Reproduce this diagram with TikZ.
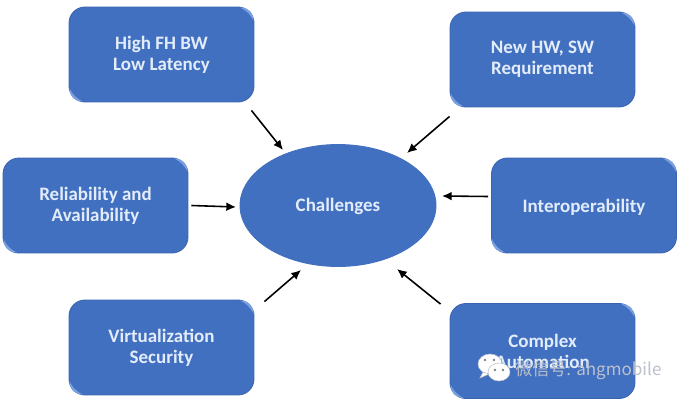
\documentclass[tikz,border=0pt]{standalone}
\usepackage{fontspec}
\setmainfont{Carlito}
\newfontfamily\cjkfont{Noto Sans CJK SC}
\usepackage{tikz}
\usetikzlibrary{shapes.geometric,arrows.meta}
\definecolor{boxblue}{RGB}{66,112,192}
\definecolor{boxedge}{RGB}{58,100,176}
\definecolor{glossblue}{RGB}{122,160,224}
\definecolor{markgray}{RGB}{186,192,204}
\definecolor{boxtext}{RGB}{226,236,250}
\tikzset{
  topic/.style={draw=boxedge,fill=boxblue,line width=.5pt,rounded corners=.32cm,
    minimum width=3.7cm,minimum height=1.9cm,align=center,text=boxtext,
    font=\fontsize{10.8}{11.9}\selectfont\bfseries,
    execute at begin node={\rule{0pt}{9.2pt}}},
  hub/.style={topic,ellipse,draw=boxblue,rounded corners=0pt,minimum width=3.92cm,minimum height=2.44cm},
  link/.style={-{Latex[length=5.5pt,width=5pt]},line width=.9pt}
}
% lighter crescents on two corners of a box
\newcommand{\gloss}[1]{
  \begin{scope}[shift={(#1.north east)}]
    \fill[glossblue] (-14,1) .. controls (-6,1) and (-1,6) .. (-1,14) .. controls (-4,8) and (-8,4) .. cycle;
  \end{scope}
  \begin{scope}[shift={(#1.south west)}]
    \fill[glossblue] (14,-1) .. controls (6,-1) and (1,-6) .. (1,-14) .. controls (4,-8) and (8,-4) .. cycle;
  \end{scope}
}
\begin{document}
\begin{tikzpicture}[x=.02cm,y=-.02cm]
\useasboundingbox (0,0) rectangle (682,402);
\fill[white] (0,0) rectangle (682,402);
\node[hub] (challenges) at (338,205.5) {Challenges};
\node[topic] (fhbw) at (161.5,54.5) {High FH BW\\Low Latency};
\node[topic] (hwsw) at (542.5,59.5) {New HW, SW\\Requirement};
\node[topic] (reliab) at (95.5,205.5) {Reliability and\\Availability};
\node[topic] (interop) at (584,205.5) {Interoperability};
\node[topic] (virt) at (161.5,347.5) {Virtualization\\Security};
\node[topic] (cmplx) at (542.5,351) {Complex\\Automation};
\gloss{fhbw}\gloss{hwsw}\gloss{reliab}\gloss{interop}\gloss{virt}\gloss{cmplx}
% arrows stop short of the ellipse
\coordinate (tipa) at (283,150);\coordinate (tipb) at (407,153);
\coordinate (tipc) at (236,207);\coordinate (tipd) at (442,196);
\coordinate (tipe) at (301,270);\coordinate (tipf) at (397,269);
\draw[link] (fhbw.south east)++(-3,8) coordinate (taila) -- (tipa);
\draw[link] (hwsw.south west)++(0,9) coordinate (tailb) -- (tipb);
\draw[link] (reliab.east)++(3,0) coordinate (tailc) -- (tipc);
\draw[link] (interop.west)++(-3,-9) coordinate (taild) -- (tipd);
\draw[link] (virt.north east)++(10,2) coordinate (taile) -- (tipe);
\draw[link] (cmplx.north west)++(-9,1) coordinate (tailf) -- (tipf);
% chat mark over the last box
\fill[white,draw=markgray,line width=.3pt] (490,364) ellipse[x radius=12,y radius=10];
\fill[white,draw=markgray,line width=.3pt] (483,372)--(480,378)--(489,374)--cycle;
\fill[white,draw=markgray,line width=.3pt] (499,372) ellipse[x radius=11,y radius=9];
\foreach \ex/\ey in {485/360,494/360,495/370,503/370}{
  \fill[gray] (\ex,\ey) circle[radius=1.3];
}
\node[text=markgray,font=\cjkfont\fontsize{9.7}{11}\selectfont,anchor=west,inner sep=0pt] (mark) at (515,370) {微信号: ahgmobile};
\end{tikzpicture}
\end{document}
